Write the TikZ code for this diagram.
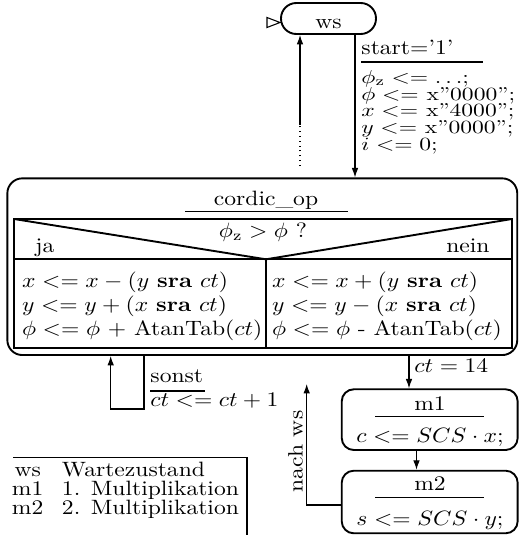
\documentclass[tikz,border=0pt]{standalone}
\usepackage{graphicx}
\usetikzlibrary{arrows.meta}
\newcommand\vsq[1]{\scalebox{1}[0.88]{#1}}
\newcommand\vsqt[1]{\scalebox{1}[0.79]{#1}}
\begin{document}
\begin{tikzpicture}[x=0.424pt,y=-0.424pt,>={Latex[length=4pt,width=2.8pt]},
  tl/.style={inner sep=0pt,anchor=base west},
  tc/.style={inner sep=0pt,anchor=base},
  tr/.style={inner sep=0pt,anchor=base east},
  box/.style={draw,thick,inner sep=0pt},
  conn/.style={->,line width=0.45pt},
  rule/.style={line width=0.45pt},
  tab/.style={thick}]
\useasboundingbox (0,0) rectangle (519,535);

% state boxes
\node[box,rounded corners=6.5pt,minimum width=40.28pt,minimum height=13.14pt,
      text height=8.06pt,text depth=0pt] (ws) at (328.5,18.5) {\vsq{ws}};
\node[box,rounded corners=6.36pt,minimum width=216.2pt,minimum height=74.92pt] (cordic) at (262.3,266.7) {};
\node[box,rounded corners=5.1pt,minimum width=74.6pt,minimum height=25.74pt] (m1) at (429.7,419.65) {};
\node[box,rounded corners=5.1pt,minimum width=74.6pt,minimum height=26.54pt] (m2) at (429.7,502) {};

% initial marker
\draw[line width=0.45pt] (267,17.5) -- (280,22.5) -- (267,27.5) -- cycle;

% transition ws -> cordic
\coordinate (dn) at (355,0);
\draw[conn] (ws.south -| dn) -- (cordic.north -| dn);
\node[tl] (st) at (361,54) {\vsq{start='1'}};
\draw[rule] (361,62) -- (483,62);
\node[tl] (a1) at (361,83.2) {\vsqt{$\phi_\mathrm{z} <= \ldots$;}};
\node[tl] (a2) at (361,100) {\vsqt{$\phi <=$ x''0000'';}};
\node[tl] (a3) at (361,116.8) {\vsqt{$x <=$ x''4000'';}};
\node[tl] (a4) at (361,133.6) {\vsqt{$y <=$ x''0000'';}};
\node[tl] (a5) at (361,150.4) {\vsqt{$i <= 0$;}};

% return to ws
\coordinate (upa) at (300,166);
\coordinate (upb) at (300,125);
\draw[line width=0.45pt,dash pattern=on 0.45pt off 1.6pt] (upa) -- (upb);
\draw[conn] (upb) -- (ws.south -| upb);

% cordic_op contents
\node[tc] (cname) at (266,205) {\vsq{cordic\_op}};
\draw[rule] (185,211.7) -- (348,211.7);
\coordinate (ta) at (14,219);
\coordinate (tb) at (512,219);
\coordinate (tc) at (512,348);
\coordinate (td) at (14,348);
\coordinate (ml) at (14,259.3);
\coordinate (mr) at (512,259.3);
\coordinate (mm) at (266,259.3);
\coordinate (mb) at (266,348);
\draw[tab] (ta) -- (tb) -- (tc) -- (td) -- cycle;
\draw[tab] (ml) -- (mr);
\draw[tab] (ta) -- (mm) -- (tb);
\draw[tab] (mm) -- (mb);
\node[tc] (cond) at (263,237) {\vsq{$\phi_\mathrm{z} > \phi$ ?}};
\node[tl] (ja) at (35,252) {\vsq{ja}};
\node[tr] (nein) at (490,252) {\vsq{nein}};
\node[tl] (l1) at (21.7,287) {\vsq{$x <= x - (y$ \textbf{sra} $ct)$}};
\node[tl] (l2) at (21.7,311) {\vsq{$y <= y + (x$ \textbf{sra} $ct)$}};
\node[tl] (l3) at (21.7,335) {\vsq{$\phi <= \phi$ + AtanTab($ct$)}};
\node[tl] (r1) at (271.7,287) {\vsq{$x <= x + (y$ \textbf{sra} $ct)$}};
\node[tl] (r2) at (271.7,311) {\vsq{$y <= y - (x$ \textbf{sra} $ct)$}};
\node[tl] (r3) at (271.7,335) {\vsq{$\phi <= \phi$ - AtanTab($ct$)}};

% loop back
\coordinate (lpa) at (144,409);
\coordinate (lpb) at (110.7,409);
\draw[conn] (cordic.south -| lpa) -- (lpa) -- (lpb) -- (cordic.south -| lpb);
\node[tl] (so) at (150,382) {\vsq{sonst}};
\draw[rule] (150,391) -- (205,391);
\node[tl] (inc) at (150,406) {\vsq{$ct <= ct + 1$}};

% to m1
\coordinate (cx) at (409,0);
\draw[conn] (cordic.south -| cx) -- (m1.north -| cx);
\node[tl] (ct14) at (414,372) {\vsq{$ct = 14$}};
\node[tc] (m1n) at (430,410) {\vsq{m1}};
\draw[rule] (375,416.7) -- (484,416.7);
\node[tc] (m1a) at (430,442.7) {\vsq{$c <= SCS \cdot x$;}};

% m1 -> m2
\coordinate (mx) at (416.5,0);
\draw[conn] (m1.south -| mx) -- (m2.north -| mx);
\node[tc] (m2n) at (430,490.7) {\vsq{m2}};
\draw[rule] (375,497.7) -- (484,497.7);
\node[tc] (m2a) at (430,525) {\vsq{$s <= SCS \cdot y$;}};

% m2 -> ws
\coordinate (nwy) at (0,505);
\coordinate (nw) at (306.7,384);
\draw[conn] (m2.west |- nwy) -- (nwy -| nw) -- (nw);
\node[tc,rotate=90] (nach) at (302.7,451.7) {\vsq{nach ws}};

% legend
\draw[rule] (13,457.5) -- (247,457.5) -- (247,535);
\node[tc] (k1) at (27.7,476.7) {\vsq{ws}};
\node[tc] (k2) at (27.7,495.7) {\vsq{m1}};
\node[tc] (k3) at (27.7,514) {\vsq{m2}};
\node[tl] (v1) at (61.5,476.7) {\vsq{Wartezustand}};
\node[tl] (v2) at (61.5,495.7) {\vsq{1. Multiplikation}};
\node[tl] (v3) at (61.5,514) {\vsq{2. Multiplikation}};
\end{tikzpicture}
\end{document}
